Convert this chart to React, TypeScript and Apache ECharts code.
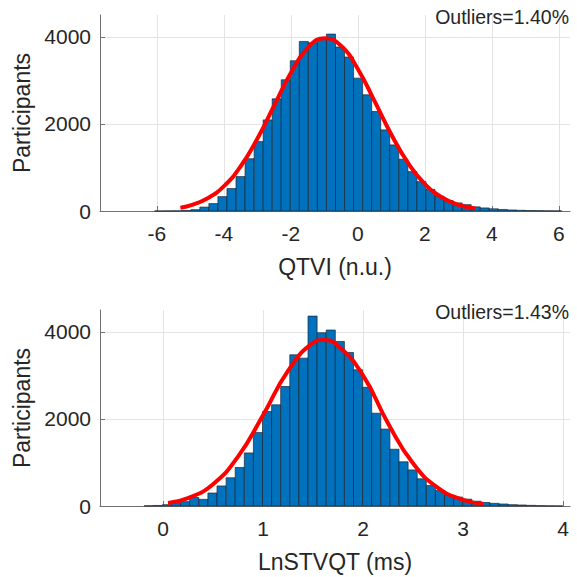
import React, { useEffect, useRef } from "react";
import * as echarts from "echarts";

// ---- Data ----
const qtviBinStart = -6.07;
const qtviBinWidth = 0.27;
const qtviCounts = [
  1, 2, 4, 10, 30, 90, 170, 330, 515, 790, 1200, 1594, 2092, 2575, 3012, 3449, 3893, 3862, 3942, 4062,
  3765, 3535, 3050, 2667, 2284, 1862, 1517, 1188, 904, 674, 495, 340, 240, 185, 145, 95, 70, 50, 35, 24,
  16, 10, 7, 4, 2,
];
const qtviFitX = [-5.3, -5.0, -4.5, -4, -3.5, -3, -2.5, -2, -1.5, -1, -0.5, 0, 0.5, 1, 1.5, 2, 2.5, 3, 3.5];
const qtviFitY = [77, 130, 286, 571, 1028, 1665, 2422, 3174, 3743, 3969, 3789, 3256, 2516, 1752, 1097, 618, 316, 142, 59];

const stvBinStart = -0.188;
const stvBinWidth = 0.091;
const stvCounts = [
  5, 12, 30, 60, 100, 195, 153, 298, 460, 648, 885, 1218, 1686, 2169, 2322, 2743, 3471, 3395, 4360, 3978,
  4040, 3778, 3525, 3127, 2725, 2130, 1766, 1303, 1015, 828, 625, 470, 355, 250, 205, 157, 110, 80, 61, 46,
  31, 23, 15, 8, 4, 2,
];
const stvFitX = [0.05, 0.25, 0.5, 0.75, 1.0, 1.25, 1.5, 1.6, 1.75, 2.0, 2.25, 2.5, 2.75, 3.0, 3.2];
const stvFitY = [68, 179, 500, 1134, 2083, 3103, 3746, 3810, 3680, 3000, 1900, 980, 415, 142, 52];

const xNames = ["QTVI (n.u.)", "LnSTVQT (ms)"];
const yName = "Participants";
const outlierTexts = ["Outliers=1.40%", "Outliers=1.43%"];

const FONT = "'Liberation Sans', Arial, Helvetica, sans-serif";
const TEXT = "#262626";
const AXIS = "#707070";
const GRID = "#e4e4e4";

function binData(start: number, width: number, counts: number[]) {
  return counts.map((c, i) => [start + i * width, start + (i + 1) * width, c]);
}

function renderBar(params: any, api: any) {
  const x0 = api.value(0);
  const x1 = api.value(1);
  const c = api.value(2);
  const p0 = api.coord([x0, c]);
  const p1 = api.coord([x1, 0]);
  return {
    type: "rect",
    shape: { x: p0[0], y: p0[1], width: p1[0] - p0[0], height: p1[1] - p0[1] },
    style: { fill: "#0072BD", stroke: "#1c2633", lineWidth: 0.7 },
  };
}

const plain = (v: number) => String(Math.round(v * 1000) / 1000);

function xAxisCfg(idx: number, min: number, max: number, split: number) {
  return {
    type: "value",
    gridIndex: idx,
    min,
    max,
    splitNumber: split,
    name: xNames[idx],
    nameLocation: "middle",
    nameGap: 44,
    nameTextStyle: { fontSize: 23, color: TEXT, fontFamily: FONT },
    axisLine: { show: true, onZero: false, lineStyle: { color: AXIS, width: 1 } },
    axisTick: { show: true, inside: true, length: 5, lineStyle: { color: AXIS } },
    axisLabel: {
      fontSize: 21,
      color: TEXT,
      fontFamily: FONT,
      margin: 12,
      showMinLabel: false,
      showMaxLabel: false,
      formatter: plain,
    },
    splitLine: { show: true, showMinLine: false, showMaxLine: false, lineStyle: { color: GRID, width: 1 } },
  };
}

function yAxisCfg(idx: number) {
  return {
    type: "value",
    gridIndex: idx,
    min: 0,
    max: 4500,
    interval: 2000,
    name: yName,
    nameLocation: "middle",
    nameGap: 60,
    nameTextStyle: { fontSize: 23, color: TEXT, fontFamily: FONT },
    axisLine: { show: true, onZero: false, lineStyle: { color: AXIS, width: 1 } },
    axisTick: { show: true, inside: true, length: 5, lineStyle: { color: AXIS } },
    axisLabel: { fontSize: 21, color: TEXT, fontFamily: FONT, margin: 9, showMaxLabel: false, formatter: plain },
    splitLine: { show: true, showMinLine: false, showMaxLine: false, lineStyle: { color: GRID, width: 1 } },
  };
}

export default function App() {
  const ref = useRef<HTMLDivElement>(null);
  useEffect(() => {
    if (!ref.current) return;
    const chart = echarts.init(ref.current, null, { renderer: "svg" });
    chart.setOption({
      animation: false,
      backgroundColor: "#ffffff",
      grid: [
        { left: 100, right: 7, top: 15, height: 196 },
        { left: 100, right: 7, top: 310, height: 196 },
      ],
      xAxis: [xAxisCfg(0, -7.7, 6.33, 7), xAxisCfg(1, -0.63, 4.07, 5)],
      yAxis: [yAxisCfg(0), yAxisCfg(1)],
      series: [
        {
          type: "custom",
          xAxisIndex: 0,
          yAxisIndex: 0,
          renderItem: renderBar,
          encode: { x: [0, 1], y: 2 },
          data: binData(qtviBinStart, qtviBinWidth, qtviCounts),
        },
        {
          type: "line",
          xAxisIndex: 0,
          yAxisIndex: 0,
          smooth: true,
          showSymbol: false,
          lineStyle: { color: "#ff0000", width: 4 },
          data: qtviFitX.map((x, i) => [x, qtviFitY[i]]),
          z: 5,
        },
        {
          type: "custom",
          xAxisIndex: 1,
          yAxisIndex: 1,
          renderItem: renderBar,
          encode: { x: [0, 1], y: 2 },
          data: binData(stvBinStart, stvBinWidth, stvCounts),
        },
        {
          type: "line",
          xAxisIndex: 1,
          yAxisIndex: 1,
          smooth: true,
          showSymbol: false,
          lineStyle: { color: "#ff0000", width: 4 },
          data: stvFitX.map((x, i) => [x, stvFitY[i]]),
          z: 5,
        },
      ],
      graphic: [
        {
          type: "text",
          right: 8,
          top: 7,
          z: 10,
          style: { text: outlierTexts[0], fontSize: 19.5, fontFamily: FONT, fill: TEXT },
        },
        {
          type: "text",
          right: 8,
          top: 302,
          z: 10,
          style: { text: outlierTexts[1], fontSize: 19.5, fontFamily: FONT, fill: TEXT },
        },
      ],
    });
    return () => chart.dispose();
  }, []);
  return (
    <div
      ref={ref}
      style={{ position: "absolute", left: 0, top: 0, width: 577, height: 577, background: "#fff" }}
    />
  );
}
